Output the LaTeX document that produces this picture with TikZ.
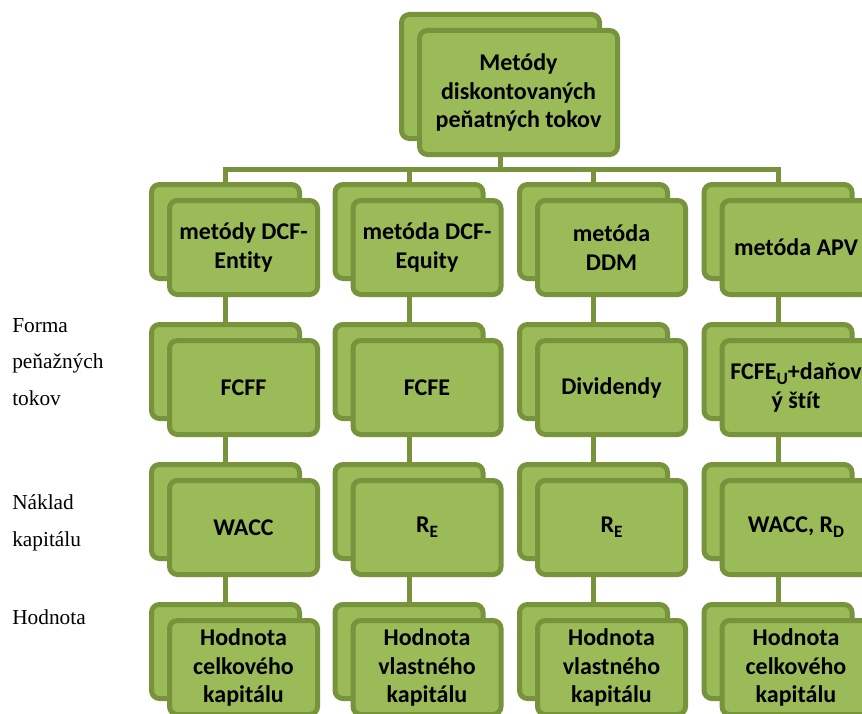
\documentclass[tikz,border=0pt]{standalone}
\usepackage{fontspec}
\setmainfont{Liberation Serif}
\newfontfamily\boxfont[Ligatures=NoCommon]{Carlito}
\usetikzlibrary{calc}
\definecolor{leaf}{HTML}{9BBB59}
\definecolor{leafdark}{HTML}{77933C}
\newcommand\lowsub[1]{\raisebox{-0.45ex}{\fontsize{13}{13}\selectfont #1}}

\begin{document}
\begin{tikzpicture}[x=0.75pt, y=-0.75pt,
    backbox/.style={draw=leafdark, fill=leaf, line width=3.75pt, rounded corners=6pt,
        minimum width=111pt, minimum height=70.5pt, inner sep=0pt},
    frontbox/.style={backbox, align=center,
        font=\boxfont\bfseries\fontsize{18}{21.5}\selectfont},
    topbox/.style={minimum width=148.5pt, minimum height=93pt},
    link/.style={draw=leafdark, line width=3.75pt},
    sidelabel/.style={anchor=base west, align=left, inner sep=0pt,
        font=\fontsize{16}{27.4}\selectfont}]

\useasboundingbox (0,0) rectangle (862,713);

% Stacked box macro
% Arguments: name, x, y (front box centre), text
\def\stackbox#1#2#3#4{
    \node[backbox] (#1b) at (#2-18,#3-16) {};
    \node[frontbox] (#1f) at (#2,#3) {#4};
}

% Root
\node[backbox, topbox] (rootb) at (500.5,76.5) {};
\node[frontbox, topbox] (rootf) at (518.5,92.5) {Metódy\\diskontovaných\\peňatných tokov};

% Methods
\stackbox{meth1}{243.5}{247.5}{metódy DCF-\\Entity}
\stackbox{meth2}{427}{247.5}{metóda DCF-\\Equity}
\stackbox{meth3}{611.5}{247.5}{metóda\\DDM}
\stackbox{meth4}{796}{247.5}{metóda APV}

% Cash flows
\stackbox{flow1}{243.5}{387.5}{FCFF}
\stackbox{flow2}{427}{387.5}{FCFE}
\stackbox{flow3}{611.5}{387.5}{Dividendy}
\stackbox{flow4}{796}{387.5}{FCFE\lowsub{U}+daňov\\ý štít}

% Cost of capital
\stackbox{cost1}{243.5}{527.5}{WACC}
\stackbox{cost2}{427}{527.5}{R\lowsub{E}}
\stackbox{cost3}{611.5}{527.5}{R\lowsub{E}}
\stackbox{cost4}{796}{527.5}{WACC, R\lowsub{D}}

% Value
\stackbox{val1}{243.5}{667.5}{Hodnota\\celkového\\kapitálu}
\stackbox{val2}{427}{667.5}{Hodnota\\vlastného\\kapitálu}
\stackbox{val3}{611.5}{667.5}{Hodnota\\vlastného\\kapitálu}
\stackbox{val4}{796}{667.5}{Hodnota\\celkového\\kapitálu}

% Connectors
\draw[link] (rootf.south -| rootb.south) -- ++(0,12.5) coordinate (hub);
\foreach \c in {1,...,4}
    \draw[link] (hub) -| (meth\c b.north);
\foreach \c in {1,...,4}
    \foreach \p/\q in {meth/flow, flow/cost, cost/val}
        \draw[link] (\p\c f.south -| \q\c b.north) -- (\q\c b.north);

% Row labels (anchored at the last line)
\node[sidelabel] (flowlbl) at (12,405.5) {Forma\\peňažných\\tokov};
\node[sidelabel] (costlbl) at (12,546.5) {Náklad\\kapitálu};
\node[sidelabel] (vallbl) at (12,624) {Hodnota};

\end{tikzpicture}
\end{document}
